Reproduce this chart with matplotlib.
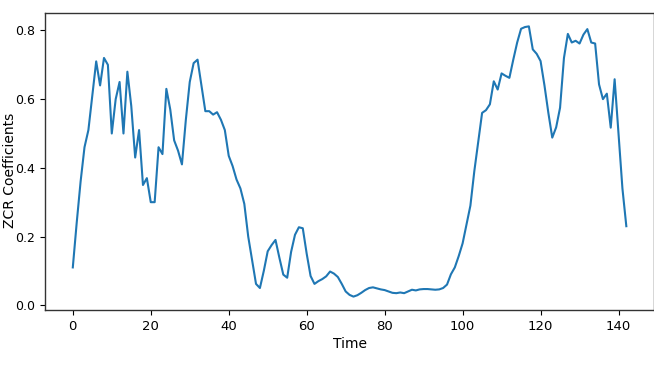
import matplotlib
matplotlib.use('Agg')
import matplotlib.pyplot as plt
import numpy as np

# ZCR coefficient per time step
zcr_values = [
    0.11, 0.24, 0.36, 0.46, 0.51, 0.61, 0.71, 0.64, 0.72, 0.70,
    0.50, 0.60, 0.65, 0.50, 0.68, 0.58, 0.43, 0.51, 0.35, 0.37,
    0.30, 0.30, 0.46, 0.44, 0.63, 0.57, 0.48, 0.45, 0.41, 0.54,
    0.65, 0.705, 0.715, 0.64, 0.565, 0.565, 0.555, 0.562, 0.54, 0.51,
    0.435, 0.405, 0.366, 0.34, 0.295, 0.20, 0.13, 0.062, 0.05, 0.10,
    0.157, 0.175, 0.19, 0.138, 0.089, 0.08, 0.155, 0.205, 0.227, 0.224,
    0.15, 0.085, 0.062, 0.07, 0.076, 0.084, 0.098, 0.092, 0.082, 0.062,
    0.04, 0.03, 0.025, 0.029, 0.036, 0.044, 0.05, 0.052, 0.049, 0.046,
    0.044, 0.04, 0.036, 0.035, 0.037, 0.035, 0.04, 0.045, 0.043, 0.046,
    0.047, 0.047, 0.046, 0.045, 0.046, 0.05, 0.06, 0.09, 0.11, 0.143,
    0.18, 0.235, 0.29, 0.39, 0.475, 0.56, 0.568, 0.585, 0.652, 0.628,
    0.675, 0.668, 0.662, 0.715, 0.765, 0.805, 0.81, 0.812, 0.745, 0.732,
    0.711, 0.64, 0.56, 0.488, 0.518, 0.575, 0.72, 0.79, 0.765, 0.77,
    0.762, 0.788, 0.804, 0.765, 0.762, 0.643, 0.60, 0.616, 0.517, 0.658,
    0.498, 0.34, 0.23,
]
time = np.arange(len(zcr_values))

x_ticks = [0, 20, 40, 60, 80, 100, 120, 140]
y_ticks = [0.0, 0.2, 0.4, 0.6, 0.8]


def main():
    fig = plt.figure(figsize=(6.54, 3.67), dpi=100)
    ax = fig.add_axes([0.069, 0.155, 0.931, 0.81])

    ax.plot(time, zcr_values, color='#1f77b4', lw=1.5)

    ax.set_xticks(x_ticks)
    ax.set_yticks(y_ticks)
    ax.tick_params(labelsize=9.5)
    ax.tick_params(axis='y', labelsize=9)

    ax.set_xlabel("Time", fontsize=10, labelpad=3)
    ax.set_ylabel("ZCR Coefficients", fontsize=10)
    ax.yaxis.set_label_coords(-0.046, 0.47)

    for s in ax.spines.values():
        s.set_color('#333333')
        s.set_linewidth(1.0)

    plt.savefig("out.png", dpi=100)


if __name__ == '__main__':
    main()
